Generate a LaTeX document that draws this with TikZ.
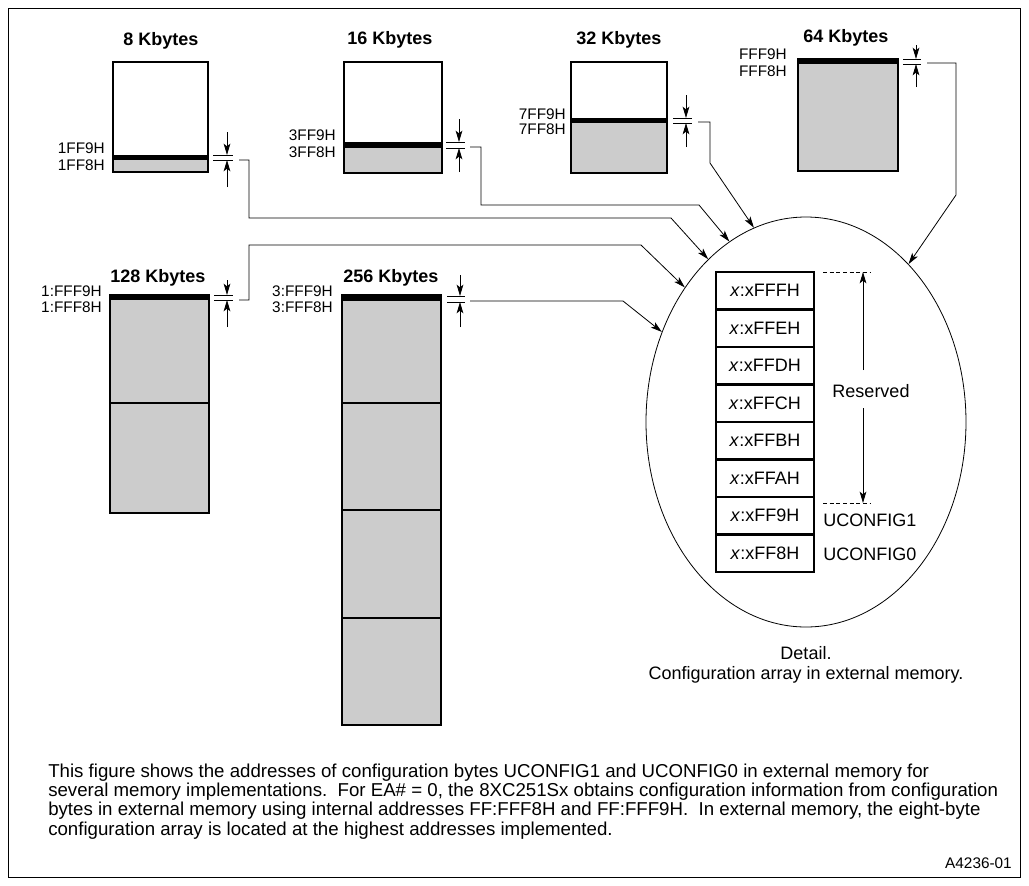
\documentclass[tikz,border=0pt]{standalone}
\usepackage{fontspec}
\setmainfont{Liberation Sans}
\usetikzlibrary{arrows.meta,shapes.geometric}
\definecolor{memgray}{HTML}{CCCCCC}

\begin{document}
\begin{tikzpicture}[x=0.75pt, y=-0.75pt,
	blk/.style={line width=1.5pt},
	tick/.style={line width=0.6pt},
	conn/.style={line width=0.6pt, -{Stealth[length=8.5pt,width=5pt,inset=2pt]}},
	title/.style={font=\fontsize{13.5}{15}\selectfont\bfseries},
	addr/.style={font=\fontsize{11.5}{13}\selectfont, anchor=east, inner sep=0pt},
	cell/.style={draw, line width=1.5pt, minimum width=74pt, minimum height=28.1pt,
		inner sep=0pt, outer sep=0pt, font=\fontsize{13.5}{15}\selectfont},
	txt/.style={font=\fontsize{13.5}{15}\selectfont}]
		\useasboundingbox (0,0) rectangle (1029,886);
		\draw[line width=0.75pt] (8,8) rectangle (1020,877);
		% 8 Kbytes
		\node[title] (t8) at (161,41) {8 Kbytes};
		\fill[memgray] (113,160) rectangle (208,172);
		\fill (113,155) rectangle (208,160);
		\draw[blk] (113,62) rectangle (208,172);
		\node[addr] (a8h) at (105,148) {1FF9H};
		\node[addr] (a8l) at (105,165) {1FF8H};
		\draw[tick] (213,155) -- (233,155) (213,160) -- (233,160);
		\draw[conn] (227,132) -- (227,155);
		\draw[conn] (227,187) -- (227,160);
		\coordinate (k8) at (239,160);
		% 16 Kbytes
		\node[title] (t16) at (390,40) {16 Kbytes};
		\fill[memgray] (344,148) rectangle (442,173);
		\fill (344,142) rectangle (442,148);
		\draw[blk] (344,62) rectangle (442,173);
		\node[addr] (a16h) at (336,135) {3FF9H};
		\node[addr] (a16l) at (336,152) {3FF8H};
		\draw[tick] (446,142) -- (465,142) (446,148) -- (465,148);
		\draw[conn] (459,119) -- (459,142);
		\draw[conn] (459,172) -- (459,148);
		\coordinate (k16) at (470,147);
		% 32 Kbytes
		\node[title] (t32) at (619,40) {32 Kbytes};
		\fill[memgray] (571,123) rectangle (667,173);
		\fill (571,118) rectangle (667,123);
		\draw[blk] (571,62) rectangle (667,173);
		\node[addr] (a32h) at (566,114) {7FF9H};
		\node[addr] (a32l) at (566,129) {7FF8H};
		\draw[tick] (673,118) -- (692,118) (673,123) -- (692,123);
		\draw[conn] (686,95) -- (686,118);
		\draw[conn] (686,147) -- (686,123);
		\coordinate (k32) at (698,122);
		% 64 Kbytes
		\node[title] (t64) at (846,38) {64 Kbytes};
		\fill[memgray] (798,64) rectangle (898,171);
		\fill (798,59) rectangle (898,64);
		\draw[blk] (798,59) rectangle (898,171);
		\node[addr] (a64h) at (787,54) {FFF9H};
		\node[addr] (a64l) at (787,71) {FFF8H};
		\draw[tick] (903,59) -- (921,59) (903,64) -- (921,64);
		\draw[conn] (916,45) -- (916,59);
		\draw[conn] (916,87) -- (916,64);
		\coordinate (k64) at (927,63);
		% 128 Kbytes
		\node[title] (t128) at (158,278) {128 Kbytes};
		\fill[memgray] (110,300) rectangle (209,513);
		\fill (110,295) rectangle (209,300);
		\draw[blk] (110,295) rectangle (209,513) (110,403) -- (209,403);
		\node[addr] (a128h) at (102,291) {1:FFF9H};
		\node[addr] (a128l) at (102,307) {1:FFF8H};
		\draw[tick] (214,295) -- (233,295) (214,300) -- (233,300);
		\draw[conn] (227,280) -- (227,295);
		\draw[conn] (227,327) -- (227,300);
		\coordinate (k128) at (239,300);
		% 256 Kbytes
		\node[title] (t256) at (391,278) {256 Kbytes};
		\fill[memgray] (342,301) rectangle (441,725);
		\fill (342,295) rectangle (441,301);
		\draw[blk] (342,295) rectangle (441,725) (342,403) -- (441,403)
			(342,510) -- (441,510) (342,618) -- (441,618);
		\node[addr] (a256h) at (333,291) {3:FFF9H};
		\node[addr] (a256l) at (333,307) {3:FFF8H};
		\draw[tick] (447,296) -- (465,296) (447,302) -- (465,302);
		\draw[conn] (460,275) -- (460,296);
		\draw[conn] (460,327) -- (460,302);
		\coordinate (k256) at (470,301);
		% detail
		\node[draw, ellipse, line width=0.6pt, minimum width=240pt, minimum height=307.5pt,
			inner sep=0pt] (detail) at (806,422) {};
		\node[cell] (c7) at (765,290.75) {\textit{x}:xFFFH};
		\node[cell] (c6) at (765,328.25) {\textit{x}:xFFEH};
		\node[cell] (c5) at (765,365.75) {\textit{x}:xFFDH};
		\node[cell] (c4) at (765,403.25) {\textit{x}:xFFCH};
		\node[cell] (c3) at (765,440.75) {\textit{x}:xFFBH};
		\node[cell] (c2) at (765,478.25) {\textit{x}:xFFAH};
		\node[cell] (c1) at (765,515.75) {\textit{x}:xFF9H};
		\node[cell] (c0) at (765,553.25) {\textit{x}:xFF8H};
		\node[txt] (res) at (871,391) {Reserved};
		\node[txt, anchor=west, inner sep=0pt] (u1) at (823,520) {UCONFIG1};
		\node[txt, anchor=west, inner sep=0pt] (u0) at (823,554) {UCONFIG0};
		\coordinate (rtop) at (863,272);
		\coordinate (rbot) at (863,503);
		\draw[line width=0.6pt, dash pattern=on 3pt off 2pt] (823,272) -- (871,272) (823,503) -- (871,503);
		\draw[conn] (863,370) -- (rtop);
		\draw[conn] (863,408) -- (rbot);
		\node[txt, align=center] (dcap) at (806,665) {Detail.\\Configuration array in external memory.};
		% connectors
		\draw[conn] (k8) -| (249,218) -- (671,218) -- (detail.121.7);
		\draw[conn] (k16) -| (481,205) -- (699,205) -- (detail.113);
		\draw[conn] (k32) -| (710,163) -- (detail.105.7);
		\draw[conn] (k64) -| (956,195) -- (detail.57.5);
		\draw[conn] (k128) -| (249,245) -- (641,245) -- (detail.132.5);
		\draw[conn] (k256) -- (623,301) -- (detail.148.3);
		% caption
		\node[anchor=north west, inner sep=0pt, align=left, font=\fontsize{14}{14.3}\selectfont] (cap) at (48,764)
			{This figure shows the addresses of configuration bytes UCONFIG1 and UCONFIG0 in external memory for\\
			several memory implementations.\ \ For EA\# = 0, the 8XC251Sx obtains configuration information from configuration\\
			bytes in external memory using internal addresses FF:FFF8H and FF:FFF9H.\ \ In external memory, the eight-byte\\
			configuration array is located at the highest addresses implemented.};
		\node[anchor=east, inner sep=0pt, font=\fontsize{11.5}{13}\selectfont] (fig) at (1012,863) {A4236-01};
\end{tikzpicture}
\end{document}
